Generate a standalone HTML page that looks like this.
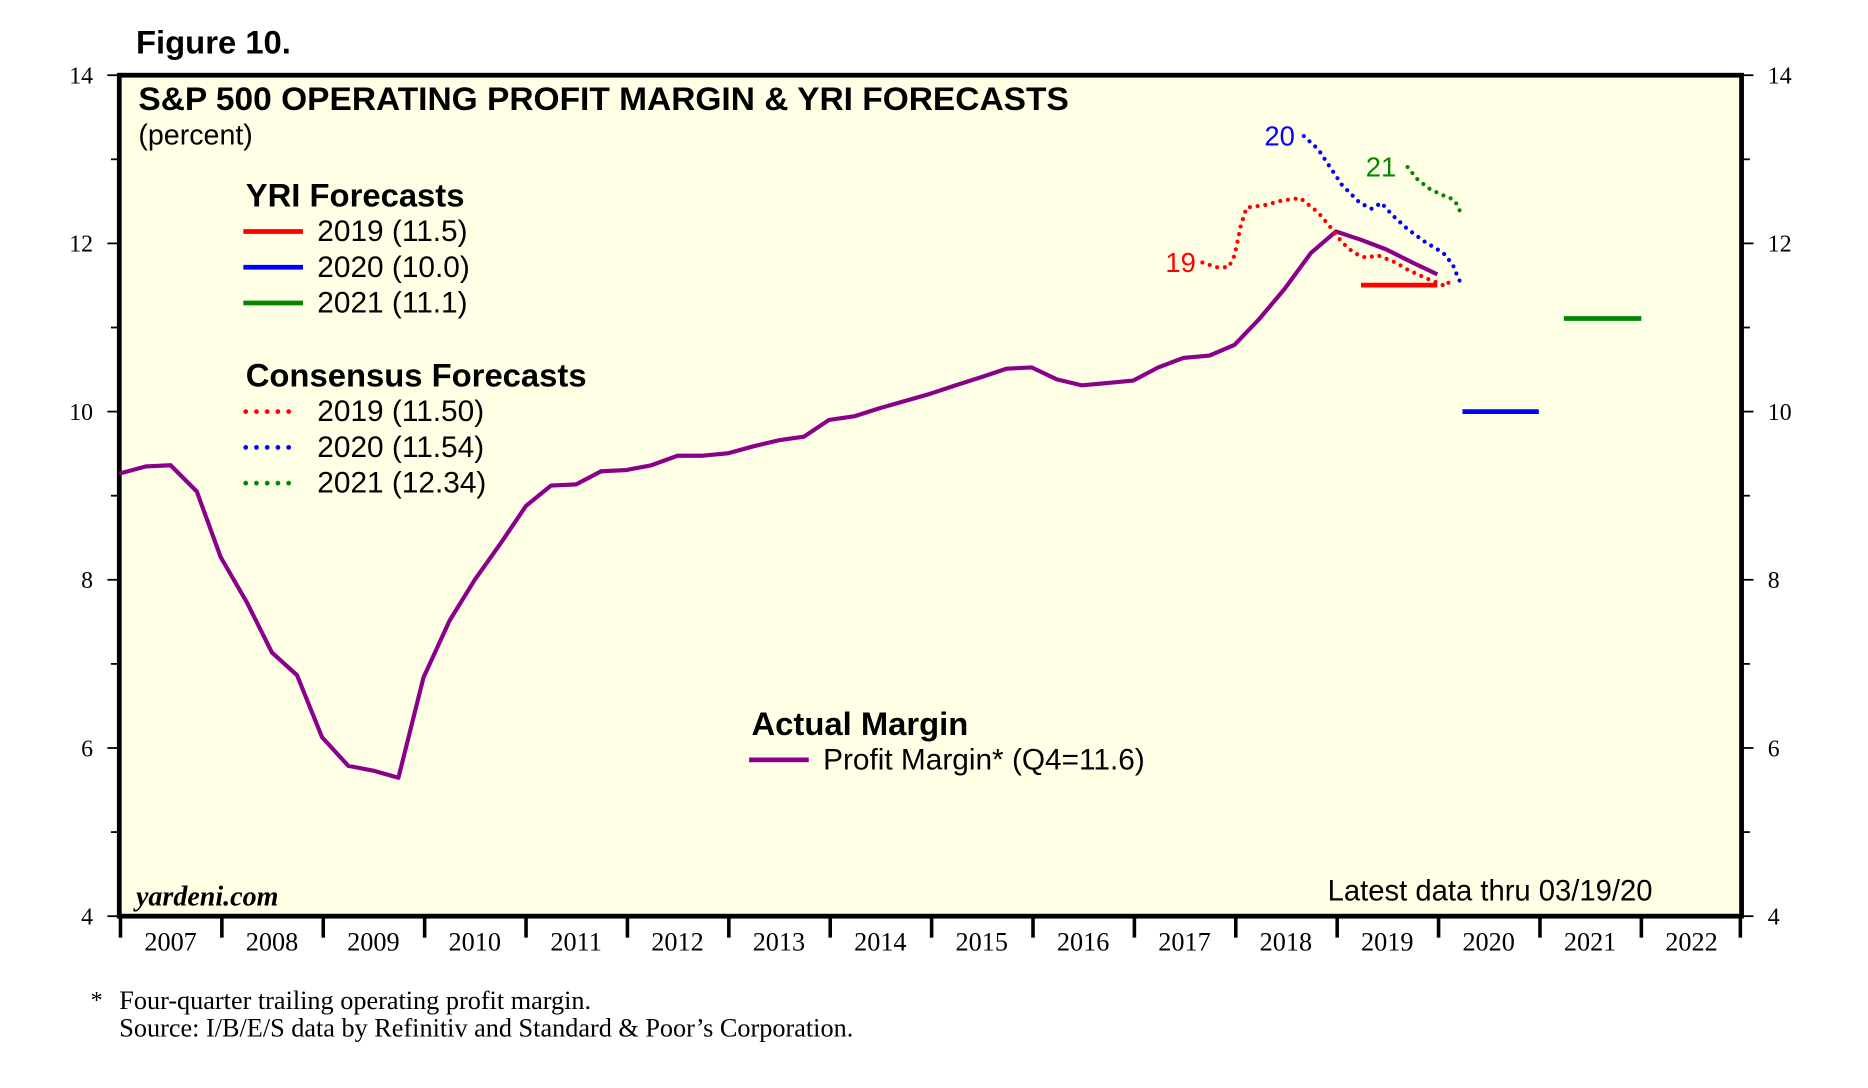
<!DOCTYPE html>
<html><head><meta charset="utf-8"><style>
html,body{margin:0;padding:0;background:#fff;}
svg{display:block;}
text{font-family:"Liberation Sans",sans-serif;}
.s{font-family:"Liberation Serif",serif;}
</style></head><body>
<svg width="1868" height="1088" viewBox="0 0 1566 912" xmlns="http://www.w3.org/2000/svg">
<rect x="0" y="0" width="1566" height="912" fill="#fff"/>
<text x="114" y="45" font-size="27.5" font-weight="bold">Figure 10.</text>
<rect x="100" y="63" width="1360" height="705" fill="#ffffe6" stroke="#000" stroke-width="4"/>
<g stroke="#000" stroke-width="1.5">
<line x1="90" y1="63" x2="100" y2="63"/><line x1="93" y1="133.5" x2="100" y2="133.5"/>
<line x1="90" y1="204" x2="100" y2="204"/><line x1="93" y1="274.5" x2="100" y2="274.5"/>
<line x1="90" y1="345" x2="100" y2="345"/><line x1="93" y1="415.5" x2="100" y2="415.5"/>
<line x1="90" y1="486" x2="100" y2="486"/><line x1="93" y1="556.5" x2="100" y2="556.5"/>
<line x1="90" y1="627" x2="100" y2="627"/><line x1="93" y1="697.5" x2="100" y2="697.5"/>
<line x1="90" y1="768" x2="100" y2="768"/>
<line x1="1460" y1="63" x2="1470" y2="63"/><line x1="1460" y1="133.5" x2="1467" y2="133.5"/>
<line x1="1460" y1="204" x2="1470" y2="204"/><line x1="1460" y1="274.5" x2="1467" y2="274.5"/>
<line x1="1460" y1="345" x2="1470" y2="345"/><line x1="1460" y1="415.5" x2="1467" y2="415.5"/>
<line x1="1460" y1="486" x2="1470" y2="486"/><line x1="1460" y1="556.5" x2="1467" y2="556.5"/>
<line x1="1460" y1="627" x2="1470" y2="627"/><line x1="1460" y1="697.5" x2="1467" y2="697.5"/>
<line x1="1460" y1="768" x2="1470" y2="768"/>
</g>
<g stroke="#000" stroke-width="3">
<line x1="101" y1="768" x2="101" y2="786"/><line x1="186" y1="768" x2="186" y2="786"/><line x1="271" y1="768" x2="271" y2="786"/><line x1="356" y1="768" x2="356" y2="786"/><line x1="441" y1="768" x2="441" y2="786"/><line x1="526" y1="768" x2="526" y2="786"/><line x1="611" y1="768" x2="611" y2="786"/><line x1="696" y1="768" x2="696" y2="786"/><line x1="781" y1="768" x2="781" y2="786"/><line x1="866" y1="768" x2="866" y2="786"/><line x1="951" y1="768" x2="951" y2="786"/><line x1="1036" y1="768" x2="1036" y2="786"/><line x1="1121" y1="768" x2="1121" y2="786"/><line x1="1206" y1="768" x2="1206" y2="786"/><line x1="1291" y1="768" x2="1291" y2="786"/><line x1="1376" y1="768" x2="1376" y2="786"/><line x1="1459" y1="768" x2="1459" y2="786"/>
</g>
<g font-size="20" text-anchor="end">
<text class="s" x="78" y="70">14</text><text class="s" x="78" y="211">12</text><text class="s" x="78" y="352">10</text><text class="s" x="78" y="493">8</text><text class="s" x="78" y="634">6</text><text class="s" x="78" y="775">4</text>
</g>
<g font-size="20">
<text class="s" x="1482" y="70">14</text><text class="s" x="1482" y="211">12</text><text class="s" x="1482" y="352">10</text><text class="s" x="1482" y="493">8</text><text class="s" x="1482" y="634">6</text><text class="s" x="1482" y="775">4</text>
</g>
<g font-size="22" text-anchor="middle">
<text class="s" x="143" y="797">2007</text><text class="s" x="228" y="797">2008</text><text class="s" x="313" y="797">2009</text><text class="s" x="398" y="797">2010</text><text class="s" x="483" y="797">2011</text><text class="s" x="568" y="797">2012</text><text class="s" x="653" y="797">2013</text><text class="s" x="738" y="797">2014</text><text class="s" x="823" y="797">2015</text><text class="s" x="908" y="797">2016</text><text class="s" x="993" y="797">2017</text><text class="s" x="1078" y="797">2018</text><text class="s" x="1163" y="797">2019</text><text class="s" x="1248" y="797">2020</text><text class="s" x="1333" y="797">2021</text><text class="s" x="1418" y="797">2022</text>
</g>
<text x="116" y="92" font-size="27.5" font-weight="bold" textLength="780" lengthAdjust="spacingAndGlyphs">S&amp;P 500 OPERATING PROFIT MARGIN &amp; YRI FORECASTS</text>
<text x="116" y="121" font-size="24">(percent)</text>
<text x="206" y="173" font-size="27.5" font-weight="bold">YRI Forecasts</text>
<line x1="204" y1="194" x2="254" y2="194" stroke="#f00" stroke-width="4"/><text x="266" y="202" font-size="25">2019 (11.5)</text>
<line x1="204" y1="224" x2="254" y2="224" stroke="#00f" stroke-width="4"/><text x="266" y="232" font-size="25">2020 (10.0)</text>
<line x1="204" y1="254" x2="254" y2="254" stroke="#080" stroke-width="4"/><text x="266" y="262" font-size="25">2021 (11.1)</text>
<text x="206" y="324" font-size="27.5" font-weight="bold">Consensus Forecasts</text>
<g stroke-width="4" stroke-linecap="round" stroke-dasharray="0 9">
<line x1="206" y1="345" x2="244" y2="345" stroke="#f00"/>
<line x1="206" y1="375" x2="244" y2="375" stroke="#00f"/>
<line x1="206" y1="405" x2="244" y2="405" stroke="#080"/>
</g>
<text x="266" y="353" font-size="25">2019 (11.50)</text>
<text x="266" y="383" font-size="25">2020 (11.54)</text>
<text x="266" y="413" font-size="25">2021 (12.34)</text>
<text x="630" y="616" font-size="27.5" font-weight="bold">Actual Margin</text>
<line x1="628" y1="637" x2="678" y2="637" stroke="#8b008b" stroke-width="4"/>
<text x="690" y="645" font-size="25">Profit Margin* (Q4=11.6)</text>
<text x="114" y="759" font-size="23.5" font-style="italic" font-weight="bold" class="s">yardeni.com</text>
<text x="1113" y="755" font-size="24.5">Latest data thru 03/19/20</text>
<line x1="1141" y1="239" x2="1205" y2="239" stroke="#f00" stroke-width="4"/>
<line x1="1226" y1="345" x2="1290" y2="345" stroke="#00f" stroke-width="4"/>
<line x1="1311" y1="267" x2="1376" y2="267" stroke="#080" stroke-width="4"/>
<polyline fill="none" stroke="#8b008b" stroke-width="3.5" stroke-linejoin="round" points="100,397 122,391 143,390 165,412 185,467 207,505 228,547 249,566 270,618 292,642 313,646 334,652 355,568 377,520 398,486 420,455 441,424 462,407 483,406 504,395 525,394 546,390 568,382 589,382 610,380 632,374 653,369 674,366 695,352 716,349 738,342 759,336 780,330 801,323 823,316 844,309 865,308 886,318 907,323 929,321 950,319 971,308 992,300 1014,298 1035,289 1056,267 1077,242 1099,212 1120,194 1141,201 1162,209 1184,220 1205,230"/>
<g fill="none" stroke-width="3.5" stroke-linecap="round" stroke-dasharray="0 6.5">
<polyline stroke="#f00" points="1008,220 1020,224 1030,224 1035,214 1040,190 1045,174 1060,172 1075,168 1090,166 1105,178 1115,190 1125,203 1135,212 1145,216 1155,214 1170,220 1180,226 1195,233 1205,237 1212,240 1215,236"/>
<polyline stroke="#00f" points="1093,114 1105,125 1115,140 1125,155 1140,170 1150,175 1158,170 1167,180 1180,192 1195,203 1210,212 1218,222 1222,232 1225,238"/>
<polyline stroke="#080" points="1180,140 1188,150 1198,158 1208,163 1218,167 1222,172 1225,180"/>
</g>
<text x="977" y="228" font-size="23" fill="#f00">19</text>
<text x="1060" y="122" font-size="23" fill="#00f">20</text>
<text x="1145" y="148" font-size="23" fill="#080">21</text>
<text class="s" x="76" y="845" font-size="20">*</text>
<text class="s" x="100" y="846" font-size="22">Four-quarter trailing operating profit margin.</text>
<text class="s" x="100" y="869" font-size="22">Source: I/B/E/S data by Refinitiv and Standard &amp; Poor’s Corporation.</text>
</svg>
</body></html>
